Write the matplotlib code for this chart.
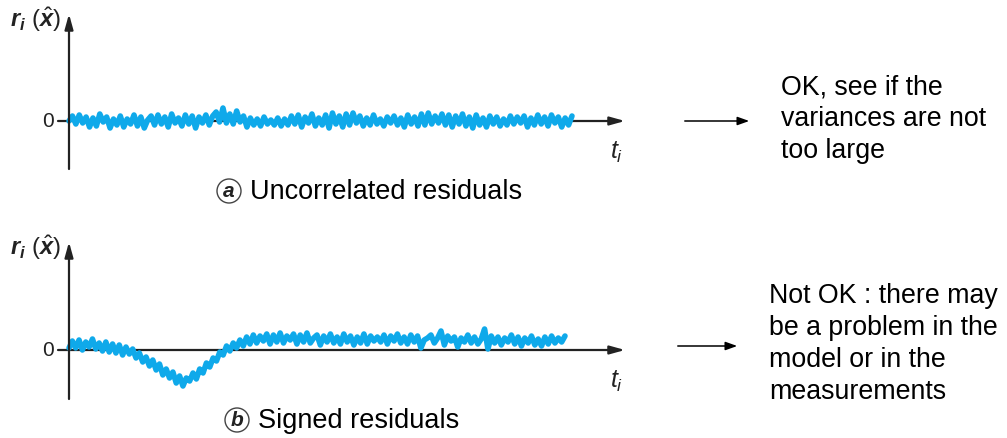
import numpy as np
import matplotlib
matplotlib.use("Agg")
import matplotlib.pyplot as plt
from matplotlib.patches import FancyArrowPatch

plt.rcParams['font.family'] = ['Liberation Sans', 'DejaVu Sans']
plt.rcParams['mathtext.fontset'] = 'custom'
plt.rcParams['mathtext.rm'] = 'Liberation Sans'
plt.rcParams['mathtext.it'] = 'Liberation Sans:italic'
plt.rcParams['mathtext.bf'] = 'Liberation Sans:bold'
plt.rcParams['mathtext.bfit'] = 'Liberation Sans:bold:italic'

# residuals, panel a (uncorrelated)
res_a = [0, 5, -3, 6, -2, 4, -6, 3, -5, 7, -1, 4, -7, 2, -4, 5, -6, 2, -3, 6,
         -5, 4, -7, 1, 5, -4, 6, -3, 4, -6, 7, -2, 3, -5, 6, -3, 5, -7, 4, -2,
         6, -4, 5, 9, -1, 13, -2, 7, -3, 10, -1, 5, -6, 3, -4, 2, -5, 4, -3, 1,
         -4, 3, -5, 2, -4, 5, -3, 6, -6, 4, -2, 7, -5, 3, -4, 6, -7, 8, -3, 5,
         -6, 7, -4, 8, -2, 5, -5, 3, -4, 6, -3, 2, -5, 4, -2, 5, -4, 3, -6, 6,
         -3, 4, -5, 7, -4, 8, -3, 5, -2, 7, -4, 6, -6, 5, -3, 7, -5, 4, -7, 6,
         -4, 3, -6, 5, -3, 4, -5, 2, -4, 5, -3, 4, -2, 5, -6, 3, -4, 6, -3, 4,
         -5, 6, -2, 4, -6, 3, -4, 5]
# residuals, panel b (signed)
res_b = [2, 9, 2, 10, 0, 8, 3, 11, 1, 7, -1, 8, -2, 6, -3, 5, -5, 3, -4, 1,
         -8, -3, -12, -7, -16, -10, -20, -14, -25, -19, -28, -22, -33, -26, -36, -28, -31, -23, -29, -19,
         -23, -13, -17, -8, -11, -2, -5, 4, -1, 7, 2, 10, 4, 13, 6, 15, 7, 14, 9, 16,
         6, 15, 8, 17, 7, 14, 10, 16, 6, 15, 8, 17, 7, 12, 15, 5, 14, 8, 16, 7,
         13, 6, 16, 8, 14, 5, 13, 7, 16, 6, 14, 9, 13, 8, 15, 6, 14, 9, 16, 7,
         13, 6, 15, 8, 14, 2, 10, 12, 15, 7, 12, 19, 5, 14, 9, 13, 3, 12, 8, 15,
         7, 13, 6, 11, 21, 1, 14, 7, 13, 5, 12, 8, 15, 6, 13, 4, 12, 7, 14, 5,
         11, 4, 13, 6, 14, 7, 12, 8, 14]

ylabel = r'$\mathbfit{r}_{\mathbfit{i}}\ (\hat{\mathbfit{x}})$'
captions = ['Uncorrelated residuals', 'Signed residuals']
letters = ['a', 'b']
notes = ['OK, see if the\nvariances are not\ntoo large',
         'Not OK : there may\nbe a problem in the\nmodel or in the\nmeasurements']

W, H = 1007, 439
fig = plt.figure(figsize=(W / 100, H / 100), dpi=100)
LINE = '#0FA9EA'

def add_panel(y_top, y_zero, y_bot, res, x_end):
    left, right = 69, 625
    ax = fig.add_axes([left / W, 1 - y_bot / H, (right - left) / W, (y_bot - y_top) / H])
    ax.set_xlim(0, right - left)
    ax.set_ylim(-(y_bot - y_zero), y_zero - y_top)
    ax.axis('off')
    xs = np.linspace(0, x_end - left, len(res))
    ax.plot(xs, res, color=LINE, lw=4.0, solid_joinstyle='round', solid_capstyle='round',
            zorder=3, clip_on=False)
    ax.annotate('', xy=(0, y_zero - y_top), xytext=(0, -(y_bot - y_zero)),
                arrowprops=dict(arrowstyle='-|>,head_length=0.9,head_width=0.25', color='#222222', lw=1.6,
                                shrinkA=0, shrinkB=0), annotation_clip=False)
    ax.annotate('', xy=(right - left, 0), xytext=(-11, 0),
                arrowprops=dict(arrowstyle='-|>,head_length=0.9,head_width=0.25', color='#222222', lw=1.6,
                                shrinkA=0, shrinkB=0), annotation_clip=False, zorder=2)
    return ax

add_panel(15, 122, 170, res_a, 572)
add_panel(243, 351, 400, res_b, 565)

# labels
for yt, yz in [(20, 122), (248, 351)]:
    fig.text(10 / W, 1 - yt / H, ylabel, fontsize=17, va='center', ha='left', color='#222222')
    fig.text(48 / W, 1 - yz / H, '0', fontsize=15, va='center', ha='center', color='#222222')

for yt in [152, 381]:
    fig.text(617 / W, 1 - yt / H, r'$t_i$', fontsize=18, va='center', ha='center', color='#222222')

for i, (yc, xs) in enumerate([(192, 229), (421, 237)]):
    fig.text(xs / W, 1 - yc / H, letters[i], fontsize=15, fontweight='bold', style='italic',
             va='center', ha='center', color='#222222',
             bbox=dict(boxstyle='circle,pad=0.12', fc='white', ec='#444444', lw=1.0))
    fig.text((xs + 21) / W, 1 - yc / H, captions[i], fontsize=19.5, va='center', ha='left', color='black')

# right arrows + notes
for (x0, x1, y), (tx, ty), note in zip([(682, 752, 122), (675, 740, 347)],
                                       [(781, 119), (769, 344)], notes):
    fig.add_artist(FancyArrowPatch((x0 / W, 1 - y / H), (x1 / W, 1 - y / H),
                                   transform=fig.transFigure,
                                   arrowstyle='-|>,head_length=7,head_width=2.5', color='black', lw=1.1))
    fig.text(tx / W, 1 - ty / H, note, fontsize=19.3, va='center', ha='left',
             linespacing=1.3, color='black')

fig.savefig('out.png', dpi=100)
